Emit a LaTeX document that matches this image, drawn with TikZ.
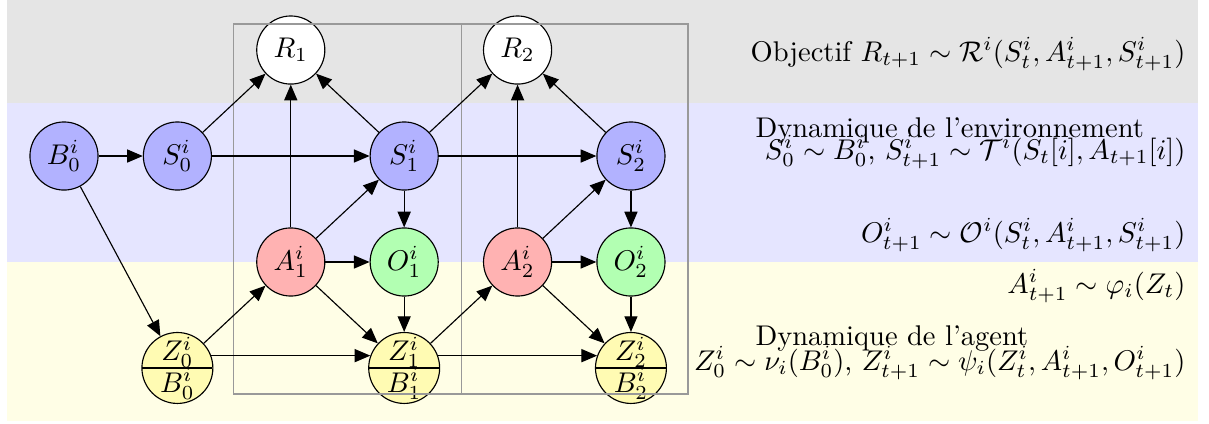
\documentclass[tikz,border=0pt]{standalone}
\usepackage{amsmath}
\usetikzlibrary{arrows.meta,positioning,calc,shapes.multipart}
\tikzset{
  statenode/.style={circle,draw,fill=blue!30,minimum size=23.9pt,inner sep=0pt},
  actnode/.style={circle,draw,fill=red!30,minimum size=23.9pt,inner sep=0pt},
  obsnode/.style={circle,draw,fill=green!30,minimum size=23.9pt,inner sep=0pt},
  rewnode/.style={circle,draw,fill=white,minimum size=23.9pt,inner sep=0pt},
  memnode/.style={circle split,draw,fill=yellow!30,inner sep=0pt},
  link/.style={-{Triangle[length=5.5pt,width=4.6pt]}},
  stepframe/.style={draw=black!40},
  eqlabel/.style={inner sep=0pt,anchor=base east},
  bandtitle/.style={inner sep=0pt,anchor=base west}
}

\begin{document}
\begin{tikzpicture}[x=0.351pt,y=-0.351pt,on grid,node distance=37.2pt and 39.8pt]
  \useasboundingbox (0,0) rectangle (1209,423);

  % bandes
  \fill[gray!20] (7,0) rectangle (1198,103);
  \fill[blue!10] (7,103) rectangle (1198,262);
  \fill[yellow!10] (7,262) rectangle (1198,421);

  % noeuds
  \node[statenode] (B0) at (64,156) {$B^i_0$};
  \node[statenode,right=of B0] (S0) {$S^i_0$};
  \node[rewnode,above right=of S0] (R1) {$R_1$};
  \node[actnode,below right=of S0] (A1) {$A^i_1$};
  \node[statenode,above right=of A1] (S1) {$S^i_1$};
  \node[obsnode,right=of A1] (O1) {$O^i_1$};
  \node[memnode,below left=of A1] (Z0) {$Z^i_0$\nodepart{lower}$B^i_0$};
  \node[memnode,below=of O1] (Z1) {$Z^i_1$\nodepart{lower}$B^i_1$};
  \node[rewnode,above right=of S1] (R2) {$R_2$};
  \node[actnode,below right=of S1] (A2) {$A^i_2$};
  \node[statenode,above right=of A2] (S2) {$S^i_2$};
  \node[obsnode,right=of A2] (O2) {$O^i_2$};
  \node[memnode,below=of O2] (Z2) {$Z^i_2$\nodepart{lower}$B^i_2$};

  % pas de temps
  \draw[stepframe] ($(R1)+(-57,-26)$) rectangle ($(Z1)+(57,26)$);
  \draw[stepframe] ($(R2)+(-56,-26)$) rectangle ($(Z2)+(57,26)$);

  % liens
  \draw[link] (B0) -- (S0);
  \draw[link] (B0) -- (Z0);
  \draw[link] (S0) -- (R1);
  \draw[link] (S0) -- (S1);
  \draw[link] (Z0) -- (A1);
  \draw[link] (Z0.20) -- (Z1.160);
  \draw[link] (A1) -- (R1);
  \draw[link] (A1) -- (S1);
  \draw[link] (A1) -- (O1);
  \draw[link] (A1) -- (Z1);
  \draw[link] (S1) -- (R1);
  \draw[link] (S1) -- (O1);
  \draw[link] (O1) -- (Z1);
  \draw[link] (S1) -- (R2);
  \draw[link] (S1) -- (S2);
  \draw[link] (Z1) -- (A2);
  \draw[link] (Z1.20) -- (Z2.160);
  \draw[link] (A2) -- (R2);
  \draw[link] (A2) -- (S2);
  \draw[link] (A2) -- (O2);
  \draw[link] (A2) -- (Z2);
  \draw[link] (S2) -- (R2);
  \draw[link] (S2) -- (O2);
  \draw[link] (O2) -- (Z2);

  % equations
  \node[eqlabel] (obj) at (1186,61) {Objectif $R_{t+1}\sim\mathcal{R}^i(S^i_t,A^i_{t+1},S^i_{t+1})$};
  \node[bandtitle] (envt) at (755,137) {Dynamique de l'environnement};
  \node[eqlabel] (enveq) at (1186,159) {$S^i_0\sim B^i_0$, $S^i_{t+1}\sim\mathcal{T}^i(S_t[i],A_{t+1}[i])$};
  \node[eqlabel] (obseq) at (1186,242) {$O^i_{t+1}\sim\mathcal{O}^i(S^i_t,A^i_{t+1},S^i_{t+1})$};
  \node[eqlabel] (acteq) at (1186,293) {$A^i_{t+1}\sim\varphi_i(Z_t)$};
  \node[bandtitle] (agtt) at (755,345) {Dynamique de l'agent};
  \node[eqlabel] (agteq) at (1186,370) {$Z^i_0\sim\nu_i(B^i_0)$, $Z^i_{t+1}\sim\psi_i(Z^i_t,A^i_{t+1},O^i_{t+1})$};
\end{tikzpicture}
\end{document}
